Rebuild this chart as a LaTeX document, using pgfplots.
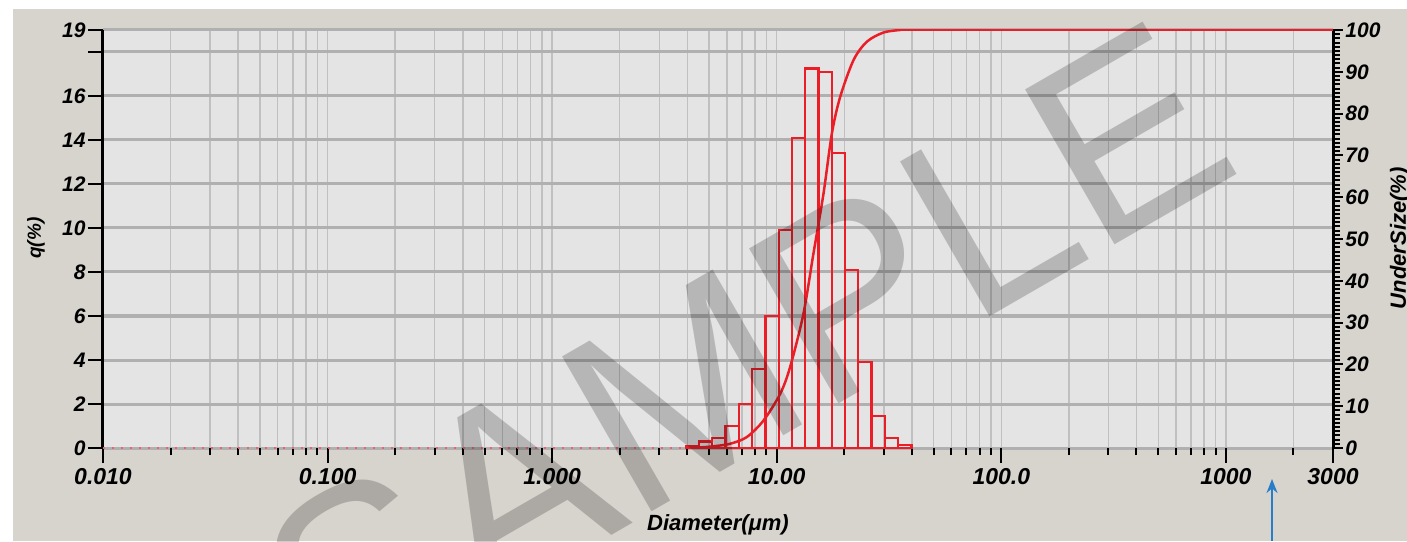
\documentclass[border=0pt]{standalone}
\usepackage{fontspec}
\setmainfont{Liberation Sans}
\usepackage{pgfplots}
\pgfplotsset{compat=1.18}
\usetikzlibrary{arrows.meta}

\definecolor{bgtan}{RGB}{215,212,205}
\definecolor{plotbg}{RGB}{228,228,228}
\definecolor{gridmin}{RGB}{192,192,192}
\definecolor{gridmaj}{RGB}{176,176,176}
\definecolor{barred}{RGB}{235,30,40}
\definecolor{arrowblue}{RGB}{40,125,200}

\newcommand{\xtickfont}{\fontsize{23}{25}\selectfont\bfseries\itshape}
\newcommand{\ytickfont}{\fontsize{21}{23}\selectfont\bfseries\itshape}

\begin{document}
\begin{tikzpicture}[x=1pt,y=1pt]
\fill[white] (0,0) rectangle (1407,541);
\fill[bgtan] (13,0) rectangle (1407,532);

\begin{axis}[
  at={(103pt,93pt)}, anchor=south west, scale only axis,
  width=1230pt, height=418pt,
  xmode=log, xmin=0.01, xmax=3000, ymin=0, ymax=19,
  axis lines*=left,
  x axis line style={draw=none},
  y axis line style={line width=3pt, black},
  axis background/.style={fill=plotbg},
  xtick={0.01,0.1,1,10,100,1000,3000},
  xticklabels={0.010,0.100,1.000,10.00,100.0,1000,3000},
  minor xtick={0.02,0.03,0.04,0.05,0.06,0.07,0.08,0.09,
               0.2,0.3,0.4,0.5,0.6,0.7,0.8,0.9,
               2,3,4,5,6,7,8,9,20,30,40,50,60,70,80,90,
               200,300,400,500,600,700,800,900,2000},
  ytick={0,2,4,6,8,10,12,14,16,18,19},
  yticklabels={0,2,4,6,8,10,12,14,16,,19},
  minor y tick num=9,
  tick align=outside,
  major tick length=15pt, minor tick length=7pt,
  every major tick/.style={black, line width=2pt},
  every minor tick/.style={black, line width=2pt},
  xmajorgrids, xminorgrids, ymajorgrids, yminorgrids,
  major x grid style={gridmin, line width=1.5pt},
  minor x grid style={gridmin, line width=1.5pt},
  major y grid style={gridmaj, line width=3pt},
  minor y grid style={gridmin, line width=1.1pt},
  x tick label style={font=\xtickfont, yshift=-2pt},
  y tick label style={font=\ytickfont, xshift=1pt},
  xlabel={Diameter(μm)},
  ylabel={q(\%)},
  every axis x label/.style={at={(axis description cs:0.5,-0.184)}, anchor=center, font=\fontsize{22}{24}\selectfont\bfseries\itshape},
  every axis y label/.style={at={(axis description cs:-0.0545,0.502)}, anchor=center, rotate=90, font=\fontsize{19}{21}\selectfont\bfseries\itshape},
]
\addplot[barred!70, dash pattern=on 2pt off 7pt, line width=2pt] coordinates {(0.01,0) (3.94,0)};
\addplot[ybar interval, draw=barred, fill=none, line width=2.2pt] coordinates {
(3.936,0.1) (4.511,0.3) (5.168,0.47) (5.921,1.0) (6.784,2.0) (7.773,3.6)
(8.906,6.0) (10.20,9.9) (11.69,14.1) (13.39,17.25) (15.35,17.1) (17.59,13.4)
(20.15,8.1) (23.09,3.9) (26.45,1.45) (30.31,0.47) (34.72,0.12) (39.79,0)
};
\end{axis}

\begin{axis}[
  at={(103pt,93pt)}, anchor=south west, scale only axis,
  width=1230pt, height=418pt,
  xmode=log, xmin=0.01, xmax=3000, ymin=0, ymax=100,
  axis x line=none, axis y line*=right,
  y axis line style={line width=3pt, black},
  ytick={0,10,20,30,40,50,60,70,80,90,100},
  yticklabels={0,10,20,30,40,50,60,70,80,90,100},
  minor y tick num=9,
  tick align=outside,
  major tick length=10pt, minor tick length=7pt,
  every major tick/.style={black, line width=2pt},
  every minor tick/.style={black, line width=2pt},
  y tick label style={font=\ytickfont, xshift=-1pt},
  ylabel={UnderSize(\%)},
  every axis y label/.style={at={(axis description cs:1.0545,0.502)}, anchor=center, rotate=90, font=\fontsize{22}{24}\selectfont\bfseries\itshape},
]
\addplot[barred, line width=2.5pt, smooth] coordinates {
(3.94,0) (4.6,0.15) (5.2,0.4) (6.19,1.0) (7.35,2.6) (8.71,6.5) (10.35,12.9)
(11.46,19.3) (13.14,32) (14.56,46.4) (16.15,60.8) (17.6,75.2) (19.17,84)
(21.98,92.8) (25.2,97.2) (29.9,99.4) (35.5,100)
};
\addplot[barred, line width=2.5pt] coordinates {(35.5,100) (3000,100)};
\end{axis}

\node[rotate=30, text=black, opacity=0.2, font=\fontsize{260}{260}\selectfont] at (745,186) {SAMPLE};
\draw[arrowblue, line width=2pt, -{Stealth[length=14pt,width=11pt]}] (1272,0) -- (1272,62);

\pgfresetboundingbox
\useasboundingbox (0,0) rectangle (1407,541);
\end{tikzpicture}
\end{document}
